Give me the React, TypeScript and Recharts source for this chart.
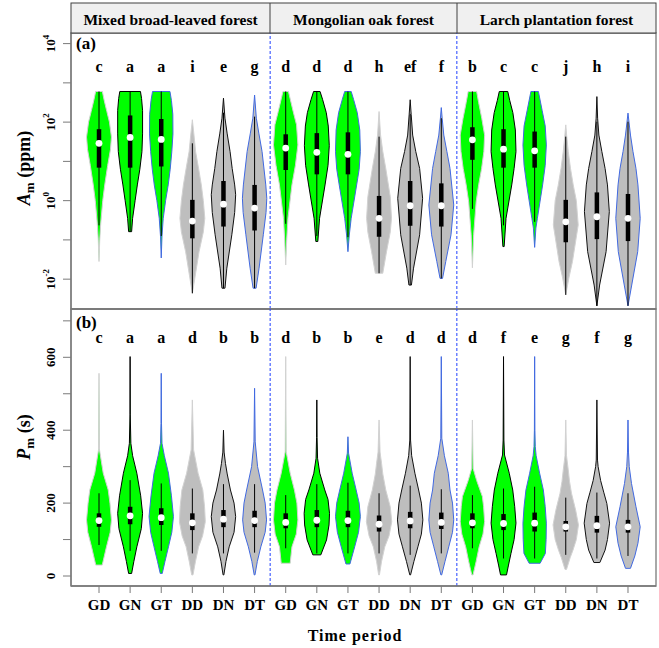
import React from 'react';
import { ScatterChart, Scatter, XAxis, YAxis, ReferenceLine, ReferenceArea } from 'recharts';

const FONT = '"Liberation Serif", "Times New Roman", serif';

const FORESTS = ['Mixed broad-leaved forest', 'Mongolian oak forest', 'Larch plantation forest'];
const PERIODS = ['GD', 'GN', 'GT', 'DD', 'DN', 'DT'];
const TICK_LABELS = [...PERIODS, ...PERIODS, ...PERIODS];

const LETTERS_A = ['c', 'a', 'a', 'i', 'e', 'g', 'd', 'd', 'd', 'h', 'ef', 'f', 'b', 'c', 'c', 'j', 'h', 'i'];
const LETTERS_B = ['c', 'a', 'a', 'd', 'b', 'b', 'd', 'b', 'b', 'e', 'd', 'd', 'd', 'f', 'e', 'g', 'f', 'g'];

// Panel (a): A_m, read as log10 exponents; profile = [exponent, relative density]
const PROFILES_A: [number, number][][] = [
  [[-1.55, 0], [-1.0, 0.06], [-0.62, 0.13], [0, 0.3], [0.4, 0.46], [0.9, 0.7], [1.3, 0.92], [1.62, 1.0], [2.0, 0.84], [2.27, 0.63], [2.55, 0.42], [2.78, 0.27]],
  [[-0.79, 0.12], [-0.45, 0.2], [0, 0.4], [0.4, 0.58], [0.8, 0.78], [1.25, 0.95], [1.7, 1.0], [2.3, 1.0], [2.6, 0.92], [2.78, 0.83]],
  [[-1.46, 0], [-0.9, 0.06], [-0.45, 0.16], [0, 0.35], [0.4, 0.56], [0.8, 0.72], [1.25, 0.85], [1.7, 0.94], [2.2, 0.93], [2.55, 0.82], [2.78, 0.7]],
  [[-2.36, 0], [-1.97, 0.2], [-1.3, 0.54], [-0.8, 0.88], [-0.45, 1.0], [0, 0.88], [0.4, 0.72], [0.82, 0.5], [1.25, 0.26], [1.67, 0.13], [2.06, 0]],
  [[-2.23, 0.12], [-1.72, 0.27], [-0.87, 0.67], [-0.3, 0.9], [0.15, 0.98], [0.4, 0.9], [0.82, 0.7], [1.25, 0.53], [1.7, 0.3], [2.1, 0.12], [2.61, 0]],
  [[-2.23, 0.12], [-1.72, 0.36], [-0.87, 0.7], [-0.3, 0.92], [0.06, 0.98], [0.4, 0.9], [1.25, 0.6], [1.7, 0.35], [2.1, 0.14], [2.69, 0]],
  [[-1.64, 0], [-1.0, 0.08], [-0.45, 0.18], [0.4, 0.5], [0.9, 0.78], [1.42, 0.98], [1.93, 0.87], [2.27, 0.6], [2.78, 0.22]],
  [[-1.04, 0.08], [-0.45, 0.22], [0.4, 0.66], [0.9, 0.9], [1.4, 1.0], [1.9, 0.92], [2.24, 0.76], [2.58, 0.46], [2.78, 0.26]],
  [[-1.3, 0], [-0.9, 0.1], [-0.45, 0.26], [0.4, 0.7], [0.8, 0.9], [1.25, 1.0], [1.8, 0.95], [2.24, 0.75], [2.58, 0.45], [2.78, 0.26]],
  [[-1.85, 0.3], [-1.3, 0.6], [-0.8, 0.9], [-0.45, 1.0], [0.1, 0.9], [0.82, 0.54], [1.25, 0.3], [1.67, 0.12], [2.27, 0]],
  [[-2.15, 0.1], [-1.72, 0.27], [-0.87, 0.76], [0.06, 1.0], [0.82, 0.76], [1.25, 0.45], [1.67, 0.2], [2.2, 0.08], [2.57, 0]],
  [[-1.98, 0.1], [-1.55, 0.36], [-0.87, 0.78], [-0.11, 1.0], [0.82, 0.7], [1.25, 0.45], [1.67, 0.2], [2.1, 0.07], [2.37, 0]],
  [[-1.71, 0], [-0.87, 0.1], [-0.03, 0.3], [0.4, 0.5], [0.82, 0.74], [1.25, 0.92], [1.67, 0.98], [2.1, 0.75], [2.5, 0.5], [2.78, 0.34]],
  [[-1.17, 0.05], [-0.45, 0.2], [0.4, 0.66], [0.82, 0.85], [1.25, 1.0], [1.8, 0.95], [2.24, 0.75], [2.55, 0.5], [2.78, 0.34]],
  [[-1.19, 0], [-0.7, 0.1], [-0.45, 0.22], [0.4, 0.64], [0.9, 0.85], [1.42, 0.94], [1.9, 0.85], [2.3, 0.6], [2.78, 0.3]],
  [[-2.4, 0], [-1.97, 0.25], [-1.55, 0.54], [-0.62, 1.0], [0, 0.85], [0.4, 0.6], [0.82, 0.38], [1.25, 0.2], [1.63, 0.08], [1.93, 0]],
  [[-2.68, 0], [-2.15, 0.22], [-1.3, 0.74], [-0.28, 1.0], [0.4, 0.85], [0.82, 0.66], [1.25, 0.4], [1.67, 0.16], [2.1, 0.06], [2.65, 0]],
  [[-2.68, 0], [-2.15, 0.3], [-1.3, 0.78], [-0.45, 0.98], [0.4, 0.8], [0.82, 0.64], [1.25, 0.4], [1.67, 0.2], [2.0, 0.08], [2.23, 0]],
];
// [lower whisker, q1, median, q3, upper whisker] as log10 exponents
const STATS_A: number[][] = [
  [-0.63, 0.84, 1.46, 1.82, 2.78], [-0.79, 0.84, 1.61, 2.17, 2.78], [-0.9, 0.87, 1.56, 2.08, 2.78],
  [-2.36, -0.96, -0.52, 0.02, 1.46], [-2.23, -0.66, -0.09, 0.5, 2.24], [-2.23, -0.76, -0.19, 0.4, 2.14],
  [-0.59, 0.78, 1.34, 1.69, 2.78], [-0.9, 0.67, 1.23, 1.72, 2.78], [-0.93, 0.67, 1.18, 1.74, 2.78],
  [-1.85, -0.92, -0.45, 0.12, 1.63], [-2.15, -0.64, -0.13, 0.5, 2.21], [-1.98, -0.66, -0.13, 0.44, 2.1],
  [-0.21, 1.04, 1.55, 1.87, 2.78], [-0.63, 0.84, 1.31, 1.82, 2.78], [-0.54, 0.84, 1.27, 1.76, 2.78],
  [-2.4, -1.06, -0.54, 0.02, 1.63], [-2.68, -0.98, -0.41, 0.21, 2.01], [-2.68, -1.03, -0.45, 0.17, 2.01],
];

// Panel (b): P_m in seconds; profile = [value, relative density]
const PROFILES_B: [number, number][][] = [
  [[30, 0.26], [80, 0.6], [120, 0.9], [154, 1.0], [200, 0.88], [236, 0.74], [282, 0.34], [346, 0.04], [556, 0]],
  [[7, 0.12], [40, 0.3], [80, 0.54], [130, 0.9], [172, 1.0], [220, 0.85], [282, 0.54], [330, 0.2], [364, 0.06], [442, 0.01], [602, 0]],
  [[7, 0.08], [40, 0.3], [80, 0.58], [120, 0.85], [163, 0.98], [220, 0.82], [282, 0.58], [330, 0.25], [364, 0.06], [419, 0.02], [556, 0]],
  [[3, 0.05], [40, 0.25], [80, 0.5], [110, 0.82], [149, 1.04], [190, 0.98], [236, 0.84], [282, 0.46], [346, 0.1], [483, 0]],
  [[3, 0.03], [40, 0.2], [80, 0.46], [120, 0.85], [163, 0.98], [200, 0.85], [236, 0.56], [280, 0.3], [309, 0.16], [340, 0.05], [400, 0]],
  [[3, 0.03], [40, 0.22], [80, 0.5], [120, 0.85], [154, 0.96], [200, 0.85], [236, 0.64], [300, 0.24], [368, 0.05], [515, 0]],
  [[35, 0.36], [80, 0.5], [115, 0.85], [154, 0.98], [200, 0.9], [236, 0.7], [282, 0.36], [341, 0.04], [602, 0]],
  [[58, 0.32], [99, 0.78], [140, 0.98], [172, 1.02], [210, 0.9], [236, 0.64], [282, 0.24], [323, 0.06], [380, 0.02], [483, 0]],
  [[33, 0.16], [80, 0.54], [120, 0.85], [163, 1.0], [200, 0.9], [236, 0.66], [282, 0.34], [337, 0.05], [382, 0]],
  [[3, 0.03], [40, 0.2], [80, 0.46], [110, 0.8], [149, 1.02], [190, 0.9], [236, 0.54], [280, 0.3], [309, 0.2], [340, 0.08], [428, 0]],
  [[3, 0.03], [40, 0.3], [80, 0.62], [115, 0.9], [154, 1.02], [200, 0.9], [236, 0.68], [282, 0.38], [330, 0.12], [373, 0.03], [602, 0]],
  [[3, 0.03], [40, 0.3], [80, 0.6], [120, 0.9], [154, 1.0], [200, 0.9], [236, 0.7], [282, 0.56], [330, 0.25], [378, 0.04], [602, 0]],
  [[3, 0.05], [40, 0.3], [80, 0.54], [115, 0.85], [149, 0.98], [190, 0.9], [218, 0.8], [262, 0.34], [295, 0.06], [428, 0]],
  [[3, 0.24], [30, 0.4], [62, 0.6], [100, 0.85], [145, 1.0], [190, 0.9], [236, 0.74], [282, 0.46], [332, 0.08], [373, 0.03], [602, 0]],
  [[35, 0.44], [62, 0.86], [100, 0.92], [145, 0.94], [190, 0.85], [236, 0.7], [282, 0.4], [330, 0.12], [355, 0.05], [400, 0.02], [602, 0]],
  [[18, 0.06], [50, 0.35], [71, 0.58], [100, 0.85], [140, 1.02], [180, 0.8], [227, 0.46], [260, 0.3], [291, 0.2], [330, 0.06], [428, 0]],
  [[37, 0.24], [71, 0.66], [100, 0.85], [145, 1.02], [199, 0.8], [230, 0.55], [262, 0.3], [300, 0.1], [318, 0.05], [483, 0]],
  [[21, 0.2], [55, 0.55], [90, 0.8], [135, 0.98], [190, 0.64], [254, 0.28], [300, 0.1], [340, 0.04], [428, 0]],
];
const STATS_B: number[][] = [
  [85, 135, 152, 172, 227], [69, 142, 165, 190, 263], [69, 140, 160, 186, 254],
  [62, 126, 146, 172, 240], [62, 134, 156, 181, 252], [64, 134, 152, 179, 252],
  [76, 131, 147, 172, 222], [62, 134, 153, 181, 252], [62, 134, 152, 179, 256],
  [62, 122, 142, 166, 227], [58, 131, 151, 176, 248], [62, 129, 147, 174, 238],
  [76, 131, 146, 172, 222], [48, 126, 144, 170, 240], [48, 122, 145, 174, 245],
  [58, 122, 135, 151, 215], [48, 119, 138, 165, 229], [55, 119, 135, 154, 227],
];

const Y_TICKS_A = [-2, -1, 0, 1, 2, 3, 4];
const Y_TICKS_B = [0, 100, 200, 300, 400, 500, 600, 700];
const LETTER_LEVEL_A = 3.287; // exponent
const LETTER_LEVEL_B = 639;

const FILLS = ['#00ff00', '#00ff00', '#00ff00', '#bebebe', '#bebebe', '#bebebe'];
const STROKES = ['#d2d2d2', '#000000', '#4169e1', '#d2d2d2', '#111111', '#4169e1'];
const HALF = 0.4;
const X_DOMAIN: [number, number] = [0.1, 18.9];
const X_TICKS = Array.from({ length: 18 }, (_, i) => i + 1);
const AXIS_GRAY = '#7a7a7a';

const pow10 = (e: number) => Math.pow(10, e);
const ident = (v: number) => v;

function buildViolin(pos: number, profile: [number, number][], stats: number[], conv: (v: number) => number) {
  const pts: { x: number; y: number }[] = [];
  for (const [v, d] of profile) pts.push({ x: pos + d * HALF, y: conv(v) });
  for (let k = profile.length - 1; k >= 0; k--) {
    const [v, d] = profile[k];
    pts.push({ x: pos - d * HALF, y: conv(v) });
  }
  const [lo, q1, med, q3, hi] = stats;
  pts.push({ x: pos, y: conv(lo) }, { x: pos, y: conv(hi) }, { x: pos, y: conv(q1) }, { x: pos, y: conv(q3) }, { x: pos, y: conv(med) });
  return pts;
}

const makeViolinLine = (nOutline: number, fill: string, stroke: string) => (props: any) => {
  const pts = (props && props.points) || [];
  if (pts.length < nOutline + 5) return <g />;
  const outline = pts.slice(0, nOutline);
  const d = outline.map((p: any, i: number) => `${i ? 'L' : 'M'}${p.x},${p.y}`).join('') + 'Z';
  const [wl, wh, b1, b3, md] = pts.slice(nOutline);
  return (
    <g>
      <path d={d} fill={fill} stroke={stroke} strokeWidth={1} strokeLinejoin="round" />
      <line x1={wl.x} y1={wl.y} x2={wh.x} y2={wh.y} stroke="#000" strokeWidth={1} />
      <line x1={b1.x} y1={b1.y} x2={b3.x} y2={b3.y} stroke="#000" strokeWidth={4.5} />
      <circle cx={md.x} cy={md.y} r={3.4} fill="#fff" />
    </g>
  );
};

const Empty = () => <g />;

const LetterShape = (p: any) => (
  <text x={p.cx} y={p.cy} textAnchor="middle" fontFamily={FONT} fontWeight="bold" fontSize={16} fill="#000">
    {p.payload.label}
  </text>
);

const LogTick = (props: any) => {
  const { x, y, payload } = props;
  const e = Math.round(Math.log10(payload.value));
  if (e % 2 !== 0) return <g />;
  return (
    <text transform={`translate(${x - 6},${y}) rotate(-90)`} textAnchor="middle" fontFamily={FONT} fontWeight="bold" fontSize={13} fill="#000">
      10<tspan dy={-6} fontSize={9}>{e}</tspan>
    </text>
  );
};

const LinTick = (props: any) => {
  const { x, y, payload } = props;
  if (payload.value % 200 !== 0) return <g />;
  return (
    <text transform={`translate(${x - 6},${y}) rotate(-90)`} textAnchor="middle" fontFamily={FONT} fontWeight="bold" fontSize={13} fill="#000">
      {payload.value}
    </text>
  );
};

const PeriodTick = (props: any) => {
  const { x, y, payload } = props;
  return (
    <text x={x} y={y} dy={15} textAnchor="middle" fontFamily={FONT} fontWeight="bold" fontSize={15} fill="#000">
      {TICK_LABELS[payload.value - 1]}
    </text>
  );
};

function violinSeries(profiles: [number, number][][], stats: number[][], conv: (v: number) => number, tag: string) {
  return profiles.map((prof, i) => {
    const k = i % 6;
    const data = buildViolin(i + 1, prof, stats[i], conv);
    return (
      <Scatter
        key={`${tag}${i}`}
        data={data}
        line={makeViolinLine(prof.length * 2, FILLS[k], STROKES[k])}
        lineType="joint"
        shape={Empty}
        isAnimationActive={false}
      />
    );
  });
}

const Y_DOMAIN_A: [number, number] = [pow10(-2.76), pow10(4.27)];
const Y_DOMAIN_B: [number, number] = [-27.4, 732.5];

export default function App() {
  const lettersA = LETTERS_A.map((l, i) => ({ x: i + 1, y: pow10(LETTER_LEVEL_A), label: l }));
  const lettersB = LETTERS_B.map((l, i) => ({ x: i + 1, y: LETTER_LEVEL_B, label: l }));
  return (
    <div style={{ position: 'absolute', left: 0, top: 0, width: 659, height: 648, background: '#fff', fontFamily: FONT }}>
      <div style={{ position: 'absolute', left: 0, top: 0 }}>
        <ScatterChart width={659} height={320} margin={{ top: 33, right: 3, left: 11, bottom: 1 }}>
          <XAxis type="number" dataKey="x" domain={X_DOMAIN} ticks={X_TICKS} allowDataOverflow tick={false} tickSize={7} height={10}
            stroke={AXIS_GRAY} axisLine={{ stroke: AXIS_GRAY, strokeWidth: 1.3 }} tickLine={{ stroke: AXIS_GRAY }} />
          <YAxis type="number" dataKey="y" scale="log" domain={Y_DOMAIN_A} allowDataOverflow ticks={Y_TICKS_A.map(pow10)} width={60}
            tickSize={8} tick={<LogTick />} axisLine={{ stroke: AXIS_GRAY, strokeWidth: 1.3 }} tickLine={{ stroke: AXIS_GRAY }} />
          <ReferenceArea x1={X_DOMAIN[0]} x2={X_DOMAIN[1]} y1={Y_DOMAIN_A[0]} y2={Y_DOMAIN_A[1]} fill="none" stroke={AXIS_GRAY} strokeWidth={1.3} fillOpacity={0} />
          <ReferenceLine x={6.5} stroke="#2040ff" strokeDasharray="3 2" />
          <ReferenceLine x={12.5} stroke="#2040ff" strokeDasharray="3 2" />
          {violinSeries(PROFILES_A, STATS_A, pow10, 'a')}
          <Scatter data={lettersA} shape={LetterShape} isAnimationActive={false} />
        </ScatterChart>
      </div>
      <div style={{ position: 'absolute', left: 0, top: 300 }}>
        <ScatterChart width={659} height={348} margin={{ top: 9, right: 3, left: 11, bottom: 22 }}>
          <XAxis type="number" dataKey="x" domain={X_DOMAIN} ticks={X_TICKS} allowDataOverflow tick={<PeriodTick />} tickSize={7} height={40}
            axisLine={{ stroke: AXIS_GRAY, strokeWidth: 1.3 }} tickLine={{ stroke: AXIS_GRAY }} />
          <YAxis type="number" dataKey="y" domain={Y_DOMAIN_B} allowDataOverflow ticks={Y_TICKS_B} width={60}
            tickSize={8} tick={<LinTick />} axisLine={{ stroke: AXIS_GRAY, strokeWidth: 1.3 }} tickLine={{ stroke: AXIS_GRAY }} />
          <ReferenceArea x1={X_DOMAIN[0]} x2={X_DOMAIN[1]} y1={Y_DOMAIN_B[0]} y2={Y_DOMAIN_B[1]} fill="none" stroke={AXIS_GRAY} strokeWidth={1.3} fillOpacity={0} />
          <ReferenceLine x={6.5} stroke="#2040ff" strokeDasharray="3 2" />
          <ReferenceLine x={12.5} stroke="#2040ff" strokeDasharray="3 2" />
          {violinSeries(PROFILES_B, STATS_B, ident, 'b')}
          <Scatter data={lettersB} shape={LetterShape} isAnimationActive={false} />
        </ScatterChart>
      </div>
      <svg width={659} height={648} style={{ position: 'absolute', left: 0, top: 0, pointerEvents: 'none' }}>
        <rect x={71} y={3} width={585} height={30} fill="#f0f0f0" stroke="#404040" strokeWidth={1} />
        <line x1={270} y1={3} x2={270} y2={33} stroke="#404040" />
        <line x1={457} y1={3} x2={457} y2={33} stroke="#404040" />
        {FORESTS.map((f, i) => (
          <text key={f} x={[170.5, 363.5, 556.5][i]} y={24.5} textAnchor="middle" fontFamily={FONT} fontWeight="bold" fontSize={15.5}>{f}</text>
        ))}
        <text x={76} y={49} fontFamily={FONT} fontWeight="bold" fontSize={17}>(a)</text>
        <text x={76} y={328} fontFamily={FONT} fontWeight="bold" fontSize={17}>(b)</text>
        <text transform="translate(30,168) rotate(-90)" textAnchor="middle" fontFamily={FONT} fontWeight="bold" fontSize={18}>
          <tspan fontStyle="italic">A</tspan><tspan fontSize={13} dy={4}>m</tspan><tspan dy={-4}> (ppm)</tspan>
        </text>
        <text transform="translate(30,437) rotate(-90)" textAnchor="middle" fontFamily={FONT} fontWeight="bold" fontSize={18}>
          <tspan fontStyle="italic">P</tspan><tspan fontSize={13} dy={4}>m</tspan><tspan dy={-4}> (s)</tspan>
        </text>
        <text x={355} y={641} textAnchor="middle" fontFamily={FONT} fontWeight="bold" fontSize={16} letterSpacing={1}>Time period</text>
      </svg>
    </div>
  );
}
